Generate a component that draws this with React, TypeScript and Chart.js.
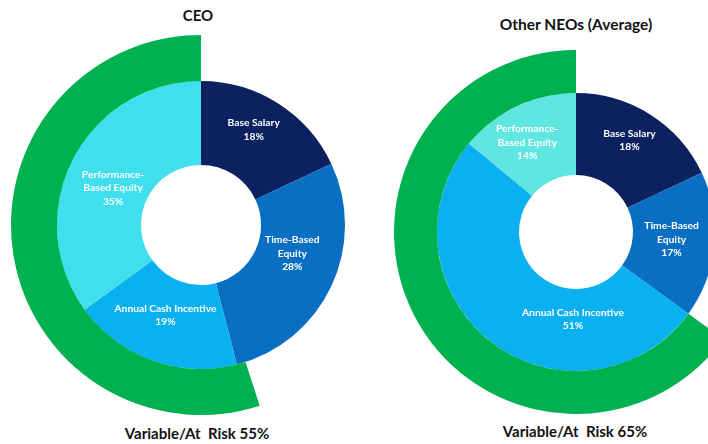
import React, { useEffect, useRef } from "react";
import { Chart, registerables } from "chart.js";

Chart.register(...registerables);

// ---- data ----
const components = ["Base Salary", "Time-Based Equity", "Annual Cash Incentive", "Performance-Based Equity"];
const componentLines = [["Base Salary"], ["Time-Based", "Equity"], ["Annual Cash Incentive"], ["Performance-", "Based Equity"]];
const ceoValues = [18, 28, 19, 35];
const neoValues = [18, 17, 51, 14];
const ceoAtRisk = 55;
const neoAtRisk = 65;
const chartTitles = ["CEO", "Other NEOs (Average)"];
const atRiskLabel = "Variable/At\u00a0 Risk";

// ---- styles ----
const ceoColors = ["#0b2160", "#0a6fc2", "#0ab0ef", "#3fdfee"];
const neoColors = ["#0b2160", "#0a6fc2", "#0ab0ef", "#5fe6e0"];
const green = "#00b14f";
const FONT = "Lato, 'Open Sans', sans-serif";

const sliceLabelPlugin = {
  id: "sliceLabels",
  afterDatasetsDraw(chart: any, _args: any, opts: any) {
    const meta = chart.getDatasetMeta(1);
    const values = chart.data.datasets[1].data;
    const ctx = chart.ctx;
    ctx.save();
    ctx.fillStyle = "#ffffff";
    ctx.font = `bold 10.3px ${FONT}`;
    ctx.textAlign = "center";
    ctx.textBaseline = "middle";
    const lh = 13.5;
    meta.data.forEach((arc: any, i: number) => {
      const p = arc.getCenterPoint();
      const off = (opts.offsets && opts.offsets[i]) || [0, 0];
      const lines = [...componentLines[i], `${values[i]}%`];
      const x = p.x + off[0];
      const y0 = p.y + off[1] - ((lines.length - 1) * lh) / 2;
      lines.forEach((l: string, k: number) => ctx.fillText(l, x, y0 + k * lh));
    });
    ctx.restore();
  },
};

type DonutProps = {
  values: number[];
  colors: string[];
  atRisk: number;
  size: number;
  cutout: string;
  ringWeight: number;
  pieWeight: number;
  offsets: number[][];
  left: number;
  top: number;
};

function Donut(p: DonutProps) {
  const ref = useRef<HTMLCanvasElement>(null);
  useEffect(() => {
    if (!ref.current) return;
    const chart = new Chart(ref.current, {
      type: "doughnut",
      data: {
        labels: components,
        datasets: [
          {
            data: [100 - p.atRisk, p.atRisk],
            backgroundColor: ["rgba(0,0,0,0)", green],
            borderWidth: 0,
            weight: p.ringWeight,
          } as any,
          {
            data: p.values,
            backgroundColor: p.colors,
            borderWidth: 0,
            weight: p.pieWeight,
          } as any,
        ],
      },
      options: {
        responsive: false,
        animation: false,
        events: [],
        cutout: p.cutout,
        layout: { padding: 0 },
        plugins: {
          legend: { display: false },
          tooltip: { enabled: false },
          title: { display: false },
          sliceLabels: { offsets: p.offsets },
        } as any,
      },
      plugins: [sliceLabelPlugin],
    });
    return () => chart.destroy();
  }, []);
  return (
    <canvas
      ref={ref}
      width={p.size}
      height={p.size}
      style={{ position: "absolute", left: p.left, top: p.top, width: p.size, height: p.size }}
    />
  );
}

function Text(props: { text: string; cx: number; cy: number; size: number }) {
  return (
    <div
      style={{
        position: "absolute",
        left: props.cx - 150,
        top: props.cy - 10,
        width: 300,
        height: 20,
        lineHeight: "20px",
        textAlign: "center",
        fontFamily: FONT,
        fontWeight: 700,
        fontSize: props.size,
        color: "#111",
        whiteSpace: "pre",
      }}
    >
      {props.text}
    </div>
  );
}

export default function App() {
  return (
    <div
      style={{
        position: "fixed",
        left: 0,
        top: 0,
        width: 708,
        height: 444,
        overflow: "hidden",
        background: "#fff",
      }}
    >
      <Donut
        values={ceoValues}
        colors={ceoColors}
        atRisk={ceoAtRisk}
        size={380}
        cutout="31.6%"
        ringWeight={46}
        pieWeight={84}
        offsets={[[-2, -9], [-1, -15], [-1, -6], [3, 9]]}
        left={201 - 190}
        top={225 - 190}
      />
      <Donut
        values={neoValues}
        colors={neoColors}
        atRisk={neoAtRisk}
        size={364}
        cutout="31.3%"
        ringWeight={43}
        pieWeight={82}
        offsets={[[1, -9], [-2, -2], [57, 10], [-7, -1]]}
        left={576 - 182}
        top={232 - 182}
      />
      <Text text={chartTitles[0]} cx={198} cy={15} size={15} />
      <Text text={chartTitles[1]} cx={576} cy={24} size={15.5} />
      <Text text={`${atRiskLabel} ${ceoAtRisk}%`} cx={197} cy={433} size={15} />
      <Text text={`${atRiskLabel} ${neoAtRisk}%`} cx={575} cy={431} size={15} />
    </div>
  );
}
